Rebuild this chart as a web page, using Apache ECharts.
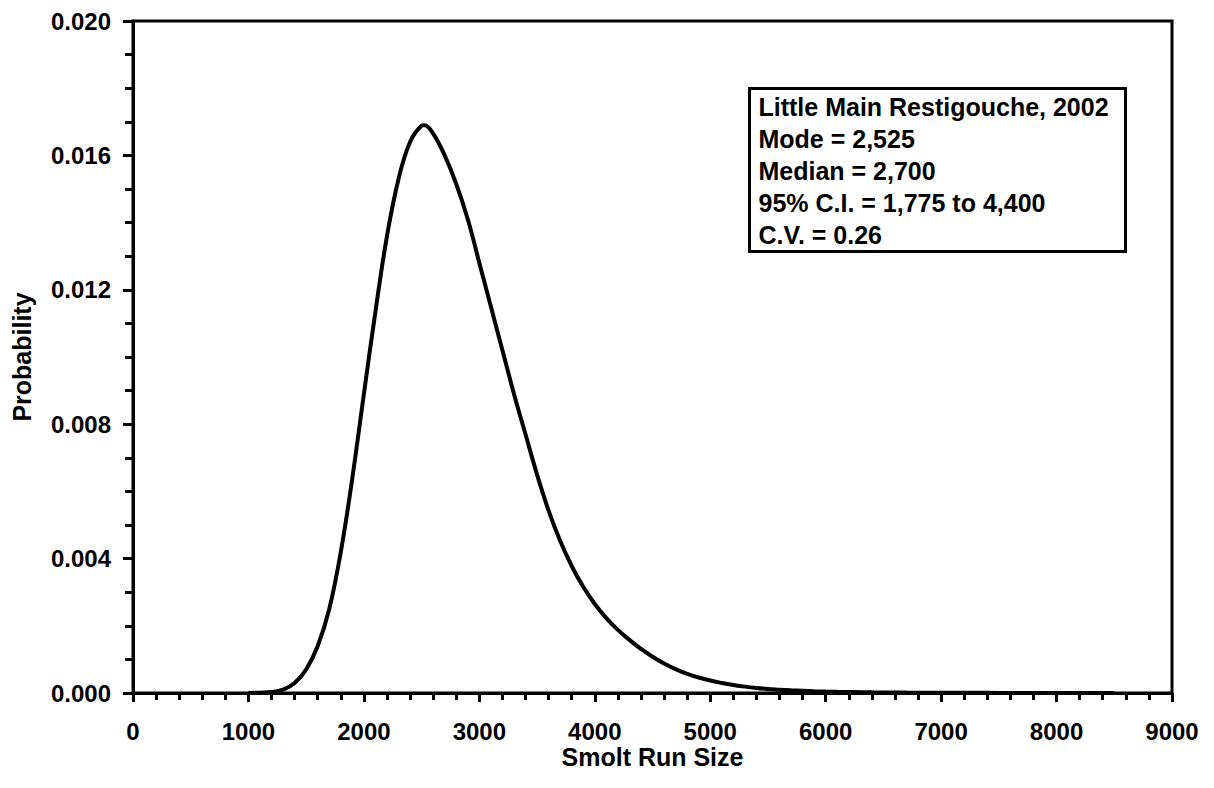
<!DOCTYPE html>
<html>
<head>
<meta charset="utf-8">
<title>Little Main Restigouche, 2002 - Smolt Run Size</title>
<script src="https://cdn.jsdelivr.net/npm/echarts@6/dist/echarts.min.js"></script>
<style>
  html, body { margin: 0; padding: 0; background: #ffffff; }
  #chart { width: 1214px; height: 788px; }
</style>
</head>
<body>
<div id="chart"></div>
<script>
// Posterior probability of the smolt run size (x = run size, y = probability)
const runSize = [
  1000, 1100, 1200, 1300, 1400, 1500, 1600, 1700, 1800, 1900,
  2000, 2100, 2200, 2300, 2400, 2500, 2525, 2600, 2700, 2800, 2900,
  3000, 3100, 3200, 3300, 3400, 3500, 3600, 3700, 3800, 3900,
  4000, 4100, 4200, 4300, 4400, 4500, 4600, 4700, 4800, 4900,
  5000, 5100, 5200, 5300, 5400, 5500, 5600, 5700, 5800, 5900,
  6000, 6100, 6200, 6300, 6400, 6500, 6600, 6700, 6800, 6900,
  7000, 7250, 7500, 7750, 8000, 8250, 8500
];
const probability = [
  0.00000, 0.00001, 0.00003, 0.00010, 0.00030, 0.00070, 0.00140, 0.00250, 0.00420, 0.00640,
  0.00890, 0.01135, 0.01360, 0.01530, 0.01640, 0.01688, 0.01690, 0.01665, 0.01600, 0.01515, 0.01410,
  0.01280, 0.01150, 0.01020, 0.00890, 0.00770, 0.00650, 0.00543, 0.00453, 0.00378, 0.00316,
  0.00265, 0.00223, 0.00188, 0.00158, 0.00131, 0.00108, 0.00088, 0.00071, 0.00057, 0.00046,
  0.00037, 0.00030, 0.00024, 0.00019, 0.00015, 0.00012, 0.00010, 0.00008, 0.000065, 0.000052,
  0.000042, 0.000035, 0.00003, 0.000025, 0.00002, 0.000017, 0.000015, 0.000012, 0.00001, 0.000008,
  0.000007, 0.000005, 0.000003, 0.000002, 0.000001, 0.0000005, 0.0
];

// Summary statistics shown in the legend box
const siteLabel = 'Little Main Restigouche, 2002';
const modeValue = 2525;
const medianValue = 2700;
const ciLower = 1775;
const ciUpper = 4400;
const cvValue = 0.26;

const fmt = (v) => v.toLocaleString('en-US');
const summaryLines = [
  siteLabel,
  'Mode = ' + fmt(modeValue),
  'Median = ' + fmt(medianValue),
  '95% C.I. = ' + fmt(ciLower) + ' to ' + fmt(ciUpper),
  'C.V. = ' + cvValue.toFixed(2)
];

const FONT = "'Liberation Sans', Arial, Helvetica, sans-serif";

const seriesData = runSize.map((x, i) => [x, probability[i]]);

const chart = echarts.init(document.getElementById('chart'), null, { renderer: 'svg' });

chart.setOption({
  backgroundColor: '#ffffff',
  animation: false,
  grid: {
    left: 133, right: 42, top: 21, bottom: 95,
    show: true,
    borderColor: '#000',
    borderWidth: 3,
    backgroundColor: 'transparent'
  },
  xAxis: {
    type: 'value',
    min: 0, max: 9000, interval: 1000,
    name: 'Smolt Run Size',
    nameLocation: 'middle',
    nameGap: 51,
    nameMoveOverlap: false,
    nameTextStyle: { fontFamily: FONT, fontWeight: 'bold', fontSize: 25, color: '#000' },
    axisLine: { show: true, onZero: false, lineStyle: { color: '#000', width: 3 } },
    axisTick: { show: true, inside: false, length: 9, lineStyle: { color: '#000', width: 3 } },
    minorTick: { show: true, splitNumber: 5, length: 7, lineStyle: { color: '#000', width: 3 } },
    splitLine: { show: false },
    minorSplitLine: { show: false },
    axisLabel: {
      margin: 26,
      fontFamily: FONT, fontWeight: 'bold', fontSize: 24, color: '#000',
      formatter: (v) => String(v)
    }
  },
  yAxis: {
    type: 'value',
    min: 0, max: 0.02, interval: 0.004,
    name: 'Probability',
    nameLocation: 'middle',
    nameGap: 99,
    nameRotate: 90,
    nameMoveOverlap: false,
    nameTextStyle: { fontFamily: FONT, fontWeight: 'bold', fontSize: 25, color: '#000' },
    axisLine: { show: true, onZero: false, lineStyle: { color: '#000', width: 3 } },
    axisTick: { show: true, inside: false, length: 10, lineStyle: { color: '#000', width: 3 } },
    minorTick: { show: true, splitNumber: 4, length: 8, lineStyle: { color: '#000', width: 3 } },
    splitLine: { show: false },
    minorSplitLine: { show: false },
    axisLabel: {
      margin: 22,
      fontFamily: FONT, fontWeight: 'bold', fontSize: 24, color: '#000',
      formatter: (v) => v.toFixed(3)
    }
  },
  graphic: [
    {
      type: 'group',
      left: 748, top: 87,
      children: [
        {
          type: 'rect',
          shape: { x: 0, y: 0, width: 376, height: 163 },
          style: { fill: '#fff', stroke: '#000', lineWidth: 3 }
        },
        {
          type: 'text',
          x: 9, y: 2,
          style: {
            text: summaryLines.join('\n'),
            fontFamily: FONT, fontWeight: 'bold', fontSize: 25,
            lineHeight: 32, fill: '#000'
          }
        }
      ]
    }
  ],
  series: [
    {
      type: 'line',
      data: seriesData,
      smooth: 0.4,
      showSymbol: false,
      lineStyle: { color: '#000', width: 4 },
      z: 3
    }
  ]
});
</script>
</body>
</html>
